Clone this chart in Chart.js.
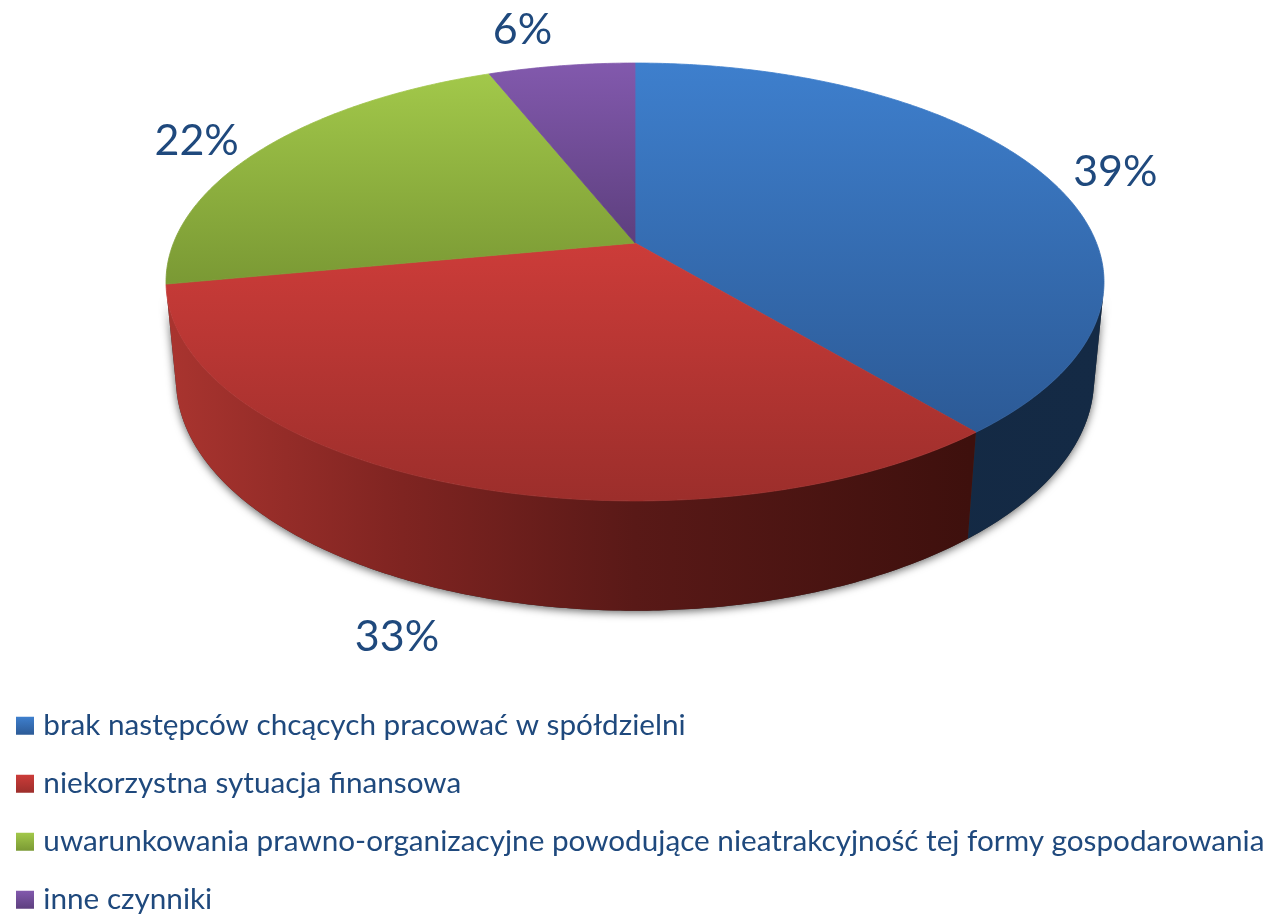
<!DOCTYPE html>
<html>
<head>
<meta charset="utf-8">
<script src="https://cdn.jsdelivr.net/npm/chart.js@4/dist/chart.umd.js"></script>
<style>
  body { margin: 0; background: #fff; }
  #wrap { width: 1281px; height: 916px; }
</style>
</head>
<body>
<div id="wrap"><canvas id="acquisitions" width="1281" height="916"></canvas></div>
<script>
const categories = [
  'brak następców chcących pracować w spółdzielni',
  'niekorzystna sytuacja finansowa',
  'uwarunkowania prawno-organizacyjne powodujące nieatrakcyjność tej formy gospodarowania',
  'inne czynniki'
];
const values = [39, 33, 22, 6];

const topColors = ['#3e7fcd', '#cc3c39', '#a2c84a', '#8259ad'];
const bottomColors = ['#2c5a96', '#9c2e2b', '#7a9934', '#5d3f7e'];
const textColor = '#1f497d';
const fontName = 'Lato';

// perspective of the disc: unit circle -> screen
const cx = 635, cy = 243, a = 461.5, b = 212, k = -0.178;
const depthM = 0.021, depthN = 98;

function project(u, v, z) {
  const den = 1 + k * v + depthM * z;
  return { x: cx + a * u / den, y: cy + (b * v + depthN * z) / den };
}

function arcPoints(start, end, z) {
  const pts = [];
  const steps = Math.max(2, Math.ceil((end - start) / 0.01));
  for (let i = 0; i <= steps; i++) {
    const t = start + (end - start) * i / steps;
    pts.push(project(Math.cos(t), Math.sin(t), z));
  }
  return pts;
}

function tracePath(ctx, pts) {
  ctx.beginPath();
  pts.forEach((p, i) => i ? ctx.lineTo(p.x, p.y) : ctx.moveTo(p.x, p.y));
  ctx.closePath();
}

// side wall as one path of small quads, only those facing the viewer
function traceWall(ctx, start, end) {
  const top = arcPoints(start, end, 0);
  const base = arcPoints(start, end, 1);
  ctx.beginPath();
  for (let i = 0; i < top.length - 1; i++) {
    const q = [top[i], top[i + 1], base[i + 1], base[i]];
    let area = 0;
    q.forEach((p, j) => {
      const n = q[(j + 1) % 4];
      area += p.x * n.y - n.x * p.y;
    });
    if (area >= 0) continue;
    q.forEach((p, j) => j ? ctx.lineTo(p.x, p.y) : ctx.moveTo(p.x, p.y));
    ctx.closePath();
  }
}

function wallGradient(ctx, i) {
  const g = ctx.createLinearGradient(170, 0, 1100, 0);
  if (i === 0) {
    g.addColorStop(0, '#12263f');
    g.addColorStop(1, '#142a45');
  } else if (i === 1) {
    g.addColorStop(0, '#a9342f');
    g.addColorStop(0.25, '#7f2421');
    g.addColorStop(0.5, '#591917');
    g.addColorStop(0.86, '#3e100d');
    g.addColorStop(1, '#3e100d');
  } else if (i === 2) {
    g.addColorStop(0, '#a9342f');
    g.addColorStop(1, '#a9342f');
  } else {
    g.addColorStop(0, '#46305f');
    g.addColorStop(1, '#46305f');
  }
  return g;
}

const pie3d = {
  id: 'pie3d',
  afterLayout(chart) {
    // legend column sits bottom left of the page
    const legend = chart.legend;
    legend.left = -6.8;
    legend.right = legend.left + legend.width;
    legend.bottom = 943;
    legend.adjustHitBoxes();
  },
  beforeDraw(chart) {
    // legend swatches have the same top to bottom fade as the slices
    const ctx = chart.ctx;
    const legend = chart.legend;
    legend.legendItems.forEach((item, i) => {
      const box = legend.legendHitBoxes[i];
      const mid = box.top + box.height / 2;
      const g = ctx.createLinearGradient(0, mid - 9, 0, mid + 9);
      g.addColorStop(0, topColors[i]);
      g.addColorStop(1, bottomColors[i]);
      item.fillStyle = g;
    });
  },
  beforeDatasetDraw(chart, args) {
    const ctx = chart.ctx;
    const arcs = chart.getDatasetMeta(args.index).data;
    ctx.save();

    // soft shadow around the wall
    ctx.save();
    ctx.shadowColor = 'rgba(0,0,0,0.6)';
    ctx.shadowBlur = 8;
    ctx.shadowOffsetY = 2;
    ctx.fillStyle = '#333';
    traceWall(ctx, 0, Math.PI * 2);
    ctx.fill();
    ctx.restore();

    // side walls
    arcs.forEach((arc, i) => {
      traceWall(ctx, arc.startAngle, arc.endAngle);
      ctx.fillStyle = wallGradient(ctx, i);
      ctx.fill();
    });

    // top faces, thin stroke closes the seam between slices
    ctx.lineWidth = 0.8;
    ctx.lineJoin = 'round';
    arcs.forEach((arc, i) => {
      const pts = [project(0, 0, 0)].concat(arcPoints(arc.startAngle, arc.endAngle, 0));
      const ys = pts.map(p => p.y);
      const g = ctx.createLinearGradient(0, Math.min(...ys), 0, Math.max(...ys));
      g.addColorStop(0, topColors[i]);
      g.addColorStop(1, bottomColors[i]);
      tracePath(ctx, pts);
      ctx.fillStyle = g;
      ctx.strokeStyle = g;
      ctx.fill();
      ctx.stroke();
    });
    ctx.restore();
    return false; // the arcs above replace the flat ones
  },
  afterDatasetsDraw(chart) {
    const ctx = chart.ctx;
    const arcs = chart.getDatasetMeta(0).data;
    const nudge = [[2, 8], [-14, -11], [-5, 8], [-28, -9]];
    const onBase = [0, 1, 0, 0];
    ctx.save();
    ctx.font = '43px ' + fontName;
    ctx.fillStyle = textColor;
    ctx.textAlign = 'center';
    ctx.textBaseline = 'middle';
    arcs.forEach((arc, i) => {
      const mid = (arc.startAngle + arc.endAngle) / 2;
      const p = project(Math.cos(mid) * 1.18, Math.sin(mid) * 1.18, onBase[i]);
      ctx.fillText(values[i] + '%', p.x + nudge[i][0], p.y + nudge[i][1]);
    });
    ctx.restore();
  }
};

new Chart(document.getElementById('acquisitions'), {
  type: 'pie',
  data: {
    labels: categories,
    datasets: [{
      data: values,
      backgroundColor: topColors,
      borderWidth: 0
    }]
  },
  options: {
    responsive: false,
    animation: false,
    layout: { padding: 0 },
    plugins: {
      legend: {
        position: 'chartArea',
        align: 'end',
        labels: {
          color: textColor,
          font: { family: fontName, size: 29.7 },
          usePointStyle: true,
          pointStyle: 'rect',
          boxWidth: 7,
          boxHeight: 18,
          padding: 28.3
        }
      },
      tooltip: { enabled: false }
    }
  },
  plugins: [pie3d]
});
</script>
</body>
</html>
